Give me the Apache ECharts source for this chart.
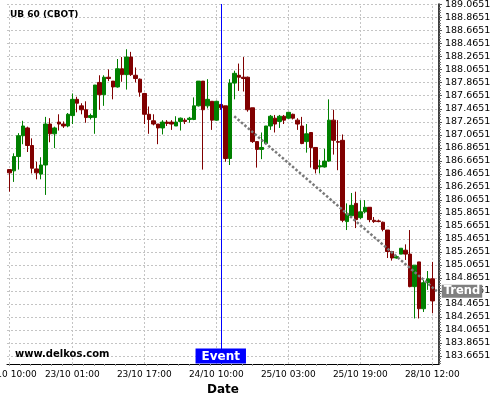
<!DOCTYPE html>
<html>
<head>
<meta charset="utf-8">
<script src="https://cdn.jsdelivr.net/npm/echarts@6/dist/echarts.min.js"></script>
<style>
html,body{margin:0;padding:0;background:#fff}
#chart{width:500px;height:400px}
</style>
</head>
<body>
<div id="chart"></div>
<script>
// hourly bars, trading hours only (last slot left empty)
var times = [
	'22/10 10:00','22/10 11:00','22/10 12:00','22/10 13:00','22/10 14:00','22/10 15:00','22/10 16:00',
	'22/10 17:00','22/10 18:00','22/10 19:00','22/10 20:00','22/10 21:00','22/10 22:00',
	'23/10 00:00','23/10 01:00','23/10 02:00','23/10 03:00','23/10 04:00','23/10 05:00','23/10 06:00',
	'23/10 07:00','23/10 08:00','23/10 09:00','23/10 10:00','23/10 11:00','23/10 12:00','23/10 13:00',
	'23/10 14:00','23/10 15:00','23/10 16:00','23/10 17:00','23/10 18:00','23/10 19:00','23/10 20:00',
	'23/10 21:00','23/10 22:00',
	'24/10 00:00','24/10 01:00','24/10 02:00','24/10 03:00','24/10 04:00','24/10 05:00','24/10 06:00',
	'24/10 07:00','24/10 08:00','24/10 09:00','24/10 10:00','24/10 11:00','24/10 12:00','24/10 13:00',
	'24/10 14:00','24/10 15:00','24/10 16:00','24/10 17:00','24/10 18:00','24/10 19:00','24/10 20:00',
	'24/10 21:00','24/10 22:00',
	'25/10 00:00','25/10 01:00','25/10 02:00','25/10 03:00','25/10 04:00','25/10 05:00','25/10 06:00',
	'25/10 07:00','25/10 08:00','25/10 09:00','25/10 10:00','25/10 11:00','25/10 12:00','25/10 13:00',
	'25/10 14:00','25/10 15:00','25/10 16:00','25/10 17:00','25/10 18:00','25/10 19:00','25/10 20:00',
	'25/10 21:00','25/10 22:00',
	'28/10 00:00','28/10 01:00','28/10 02:00','28/10 03:00','28/10 04:00','28/10 05:00','28/10 06:00',
	'28/10 07:00','28/10 08:00','28/10 09:00','28/10 10:00','28/10 11:00','28/10 12:00',
	''
];

var opens = [
	186.53,186.51,186.73,187.05,187.17,186.90,186.54,186.46,186.60,187.23,
	187.08,187.26,187.23,187.20,187.36,187.61,187.51,187.45,187.33,187.33,
	187.87,187.68,187.95,187.89,187.80,188.08,187.99,188.26,187.98,187.92,
	187.70,187.38,187.28,187.23,187.17,187.26,187.26,187.20,187.27,187.29,
	187.30,187.30,187.51,187.89,187.51,187.58,187.29,187.53,187.51,186.70,
	187.86,187.98,187.95,187.95,187.48,186.96,186.84,186.93,187.20,187.32,
	187.27,187.35,187.32,187.38,187.29,187.20,186.96,187.10,186.87,186.57,
	186.57,186.66,187.29,186.96,186.98,185.73,185.82,186.01,185.79,185.88,
	185.95,185.75,185.74,185.72,185.60,185.27,185.17,185.23,185.29,185.23,
	184.73,185.11,184.39,184.79,184.85
];
var closes = [
	186.48,186.73,187.05,187.20,186.90,186.55,186.48,186.60,187.23,187.08,
	187.17,187.23,187.20,187.38,187.61,187.55,187.45,187.33,187.36,187.83,
	187.68,187.95,187.93,187.80,188.08,187.99,188.26,187.99,187.93,187.72,
	187.38,187.30,187.23,187.17,187.26,187.24,187.23,187.26,187.32,187.27,
	187.32,187.51,187.89,187.45,187.61,187.29,187.58,187.48,186.70,187.86,
	188.01,187.95,187.93,187.45,186.96,186.84,186.87,187.20,187.35,187.23,
	187.35,187.29,187.41,187.32,187.23,186.93,187.08,186.87,186.54,186.59,
	186.66,187.29,186.98,186.95,185.75,185.85,185.98,185.76,185.88,185.95,
	185.76,185.73,185.73,185.61,185.27,185.17,185.19,185.32,185.23,184.73,
	185.06,184.39,184.79,184.85,184.51
];
var lows = [
	186.19,186.34,186.53,186.92,186.80,186.47,186.38,186.38,186.14,186.95,
	186.86,187.13,187.17,187.18,187.23,187.41,187.38,187.25,187.30,187.08,
	187.45,187.51,187.89,187.61,187.79,187.88,187.76,187.97,187.87,187.65,
	187.23,187.08,187.21,186.92,187.07,187.20,187.14,187.20,187.13,187.23,
	187.25,187.29,187.50,186.53,187.47,187.14,187.28,187.45,186.65,186.60,
	187.61,187.74,187.73,187.42,186.94,186.56,186.69,186.92,187.14,187.10,
	187.17,187.23,187.31,187.30,187.14,186.92,186.79,186.56,186.47,186.47,
	186.56,186.65,186.76,186.52,185.72,185.60,185.80,185.63,185.77,185.86,
	185.72,185.71,185.72,185.58,185.17,185.13,185.16,185.23,185.14,184.72,
	184.24,184.24,184.34,184.68,184.32
];
var highs = [
	186.53,186.78,187.09,187.28,187.19,187.01,186.65,186.72,187.34,187.32,
	187.19,187.38,187.27,187.40,187.70,187.65,187.55,187.58,187.39,187.83,
	187.98,187.98,188.07,187.89,188.23,188.26,188.38,188.34,188.10,187.93,
	187.71,187.50,187.38,187.23,187.29,187.29,187.29,187.35,187.33,187.32,
	187.34,187.64,187.89,187.89,187.92,187.58,187.59,187.54,187.51,187.92,
	188.05,188.16,188.26,187.96,187.48,186.96,187.10,187.20,187.37,187.37,
	187.37,187.37,187.41,187.39,187.32,187.34,187.23,187.10,186.87,186.68,
	186.85,187.61,187.45,187.29,187.07,186.01,186.17,186.19,186.06,186.06,
	185.95,185.80,185.76,185.73,185.60,185.27,185.21,185.32,185.38,185.60,
	185.06,185.11,184.83,184.97,185.11
];

var labelIdx = [0, 14, 30, 46, 62, 78, 94];
var yTicks = [
	183.6651,183.8651,184.0651,184.2651,184.4651,184.6651,184.8651,185.0651,185.2651,185.4651,
	185.6651,185.8651,186.0651,186.2651,186.4651,186.6651,186.8651,187.0651,187.2651,187.4651,
	187.6651,187.8651,188.0651,188.2651,188.4651,188.6651,188.8651,189.0651
];
var eventIdx = 47;
var trendIdx = [50, 95];
var trendVal = [187.35, 184.66];

var yMin = 183.54, yMax = 189.076;

var candleData = [];
for (var i = 0; i < opens.length; i++) {
	candleData.push([opens[i], closes[i], lows[i], highs[i]]);
}
var trendData = [[trendIdx[0], trendVal[0]], [trendIdx[1], trendVal[1]]];

// minor ticks: 5 per y step, one every ~2.35 bars on x
var minorTicks = [];
for (var k = 0; k < yTicks.length; k++) {
	for (var m = 1; m < 5; m++) {
		var v = +(yTicks[k] - 0.04 * m).toFixed(4);
		if (v > yMin) minorTicks.push(v);
	}
}
var xMinor = [];
for (var t = 0; t <= 95; t += 2.35) xMinor.push(+t.toFixed(2));

var vLines = labelIdx.map(function (idx) { return { xAxis: idx }; });

function showTick(index) {
	return labelIdx.indexOf(index) >= 0;
}

var font = 'DejaVu Sans';
var gridLine = { color: '#c4c4c4', type: [2, 2], width: 1 };
var myChart = echarts.init(document.getElementById('chart'));
var option = {
	animation: false,
	title: [
		{
			text: 'UB 60 (CBOT)',
			left: 10,
			top: 10,
			padding: 0,
			textStyle: { fontSize: 9, fontWeight: 'bold', color: '#000', fontFamily: font }
		},
		{
			text: 'www.delkos.com',
			left: 15,
			top: 349,
			padding: 0,
			textStyle: { fontSize: 10, fontWeight: 'bold', color: '#000', fontFamily: font }
		}
	],
	grid: {
		left: 7,
		right: 61,
		top: 4,
		bottom: 36,
		containLabel: false,
		outerBoundsMode: 'none'
	},
	xAxis: [
		{
			type: 'category',
			data: times,
			boundaryGap: true,
			name: 'Date',
			nameLocation: 'middle',
			nameGap: 18,
			nameTextStyle: { fontSize: 12, fontWeight: 'bold', color: '#000', fontFamily: font },
			axisLine: { onZero: false, lineStyle: { color: '#000', width: 1 } },
			axisTick: { alignWithLabel: true, interval: showTick, length: 4, lineStyle: { color: '#888' } },
			axisLabel: { interval: showTick, fontSize: 9, color: '#000', margin: 6, fontFamily: font, hideOverlap: false },
			splitLine: { show: false }
		},
		{
			type: 'value',
			position: 'bottom',
			min: -0.5,
			max: 95.5,
			axisLine: { show: false, onZero: false },
			axisTick: { show: true, customValues: xMinor, length: 2, lineStyle: { color: '#999' } },
			axisLabel: { show: false },
			splitLine: { show: false }
		}
	],
	yAxis: [
		{
			type: 'value',
			position: 'right',
			min: yMin,
			max: yMax,
			scale: true,
			axisLine: { show: true, onZero: false, lineStyle: { color: '#000', width: 1.5 } },
			axisTick: { show: true, customValues: yTicks, length: 3, lineStyle: { color: '#555' } },
			axisLabel: {
				customValues: yTicks,
				fontSize: 9.5,
				color: '#000',
				margin: 6,
				fontFamily: font,
				formatter: function (v) { return v.toFixed(4); }
			},
			splitLine: { show: true, lineStyle: gridLine }
		},
		{
			type: 'value',
			position: 'right',
			min: yMin,
			max: yMax,
			axisLine: { show: false, onZero: false },
			axisTick: { show: true, customValues: minorTicks, length: 2, lineStyle: { color: '#777' } },
			axisLabel: { show: false },
			splitLine: { show: false }
		}
	],
	series: [
		{
			type: 'candlestick',
			data: candleData,
			barWidth: 4,
			itemStyle: {
				color: '#008000',
				color0: '#800000',
				borderColor: '#008000',
				borderColor0: '#800000',
				borderWidth: 1
			},
			markLine: {
				silent: true,
				symbol: 'none',
				label: { show: false },
				lineStyle: { color: '#0000ff', width: 1, type: 'solid' },
				data: [{ xAxis: eventIdx }]
			},
			markPoint: {
				silent: true,
				symbol: 'rect',
				symbolSize: 1,
				itemStyle: { color: 'rgba(0,0,0,0)' },
				label: {
					show: true,
					position: 'top',
					distance: 0,
					formatter: 'Event',
					backgroundColor: '#0000ff',
					color: '#fff',
					fontWeight: 'bold',
					fontSize: 12,
					fontFamily: font,
					padding: [2, 6, 1, 6]
				},
				data: [{ coord: [eventIdx, yMin] }]
			}
		},
		{
			type: 'line',
			data: trendData,
			symbol: 'none',
			silent: true,
			z: 3,
			lineStyle: { color: '#7a7a7a', width: 2.5, type: [2.5, 2] },
			endLabel: {
				show: true,
				formatter: 'Trend',
				distance: 5,
				color: '#fff',
				backgroundColor: '#808080',
				fontWeight: 'bold',
				fontSize: 11.5,
				fontFamily: font,
				padding: [1, 2, 0, 2]
			},
			markLine: {
				silent: true,
				z: 1,
				symbol: 'none',
				label: { show: false },
				lineStyle: gridLine,
				data: vLines
			}
		}
	]
};
myChart.setOption(option);
</script>
</body>
</html>
